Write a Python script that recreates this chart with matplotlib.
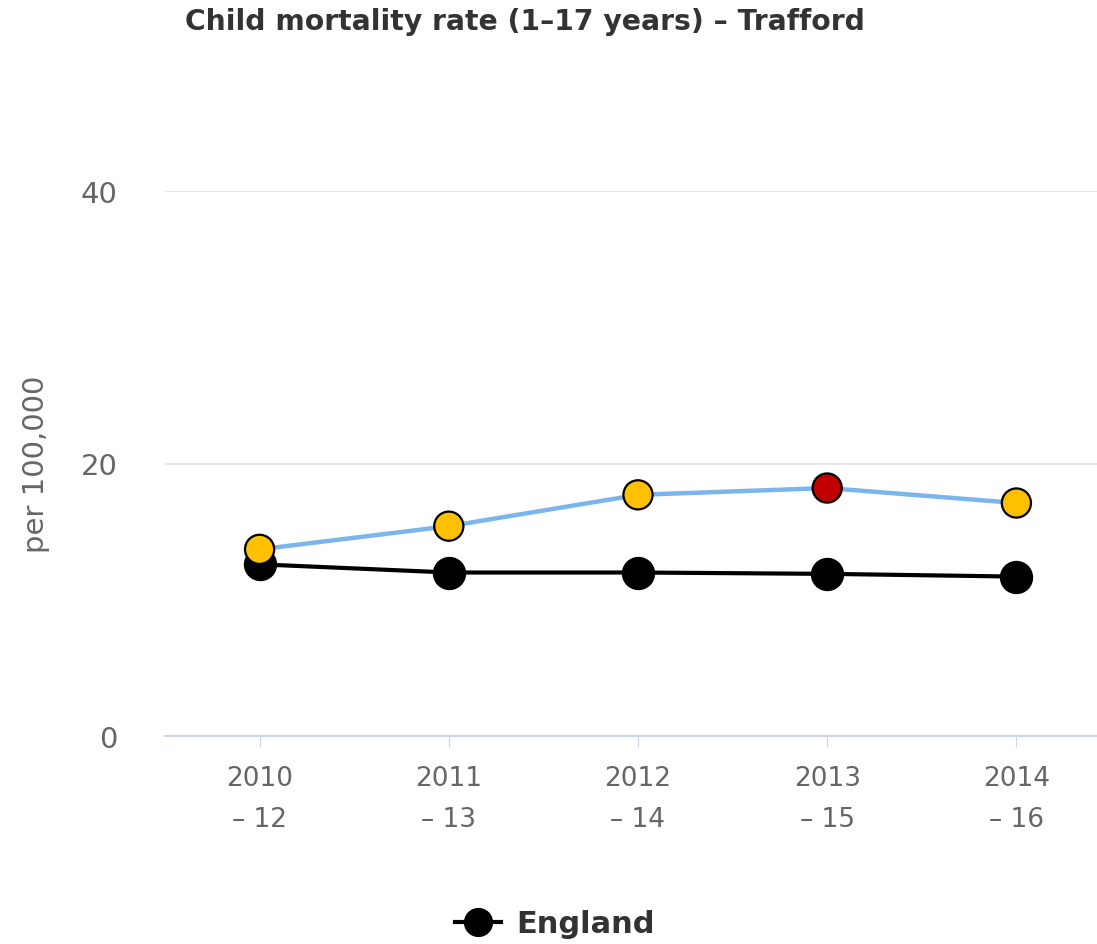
import matplotlib
matplotlib.use("Agg")
import matplotlib.pyplot as plt
from matplotlib.lines import Line2D

# Data
periods = ["2010\n\u2013 12", "2011\n\u2013 13", "2012\n\u2013 14", "2013\n\u2013 15", "2014\n\u2013 16"]
trafford = [13.7, 15.4, 17.7, 18.2, 17.1]
trafford_colors = ["#ffc000", "#ffc000", "#ffc000", "#c00000", "#ffc000"]
england = [12.6, 12.0, 12.0, 11.9, 11.7]

fig = plt.figure(figsize=(10.97, 9.45), dpi=100)
ax = fig.add_axes([165 / 1097, 1 - 737 / 945, 946 / 1097, (737 - 192) / 945])

x = list(range(len(periods)))

ax.plot(x, england, color="black", lw=3, zorder=3)
ax.scatter(x, england, s=23**2, color="black", zorder=4)

ax.plot(x, trafford, color="#7cb5ec", lw=3.2, zorder=5)
ax.scatter(x, trafford, s=21**2, c=trafford_colors, edgecolors="black", linewidths=1.6, zorder=6)

ax.set_xlim(-0.5, 4.5)
ax.set_ylim(0, 40)
ax.set_yticks([0, 20, 40])
ax.set_xticks(x)
ax.set_xticklabels(periods, fontsize=19, color="#666666", linespacing=1.75)
for lab in ax.get_yticklabels():
    lab.set_fontsize(21)
    lab.set_color("#666666")

ax.grid(axis="y", color="#e6e6e6", lw=1.5)
ax.set_axisbelow(True)
for s in ["top", "right", "left"]:
    ax.spines[s].set_visible(False)
ax.spines["bottom"].set_color("#ccd6eb")
ax.spines["bottom"].set_linewidth(1.5)
ax.tick_params(axis="x", length=8, color="#ccd6eb", pad=13)
ax.tick_params(axis="y", length=0, pad=34)

ax.set_ylabel("per 100,000", fontsize=21, color="#666666")
ax.yaxis.set_label_coords(-115 / 946, 0.5)

fig.text(525 / 1097, 1 - 22 / 945, "Child mortality rate (1\u201317 years) \u2013 Trafford",
         ha="center", va="center", fontsize=20.3, fontweight="bold", color="#333333")

handle = Line2D([0], [0], color="black", lw=3, marker="o", markersize=20)
fig.legend([handle], ["England"], loc="center", bbox_to_anchor=(555 / 1097, 1 - 925 / 945),
           frameon=False, prop={"size": 22, "weight": "bold"},
           handlelength=1.5, handletextpad=0.5, labelcolor="#333333")

fig.savefig("out.png", dpi=100)
